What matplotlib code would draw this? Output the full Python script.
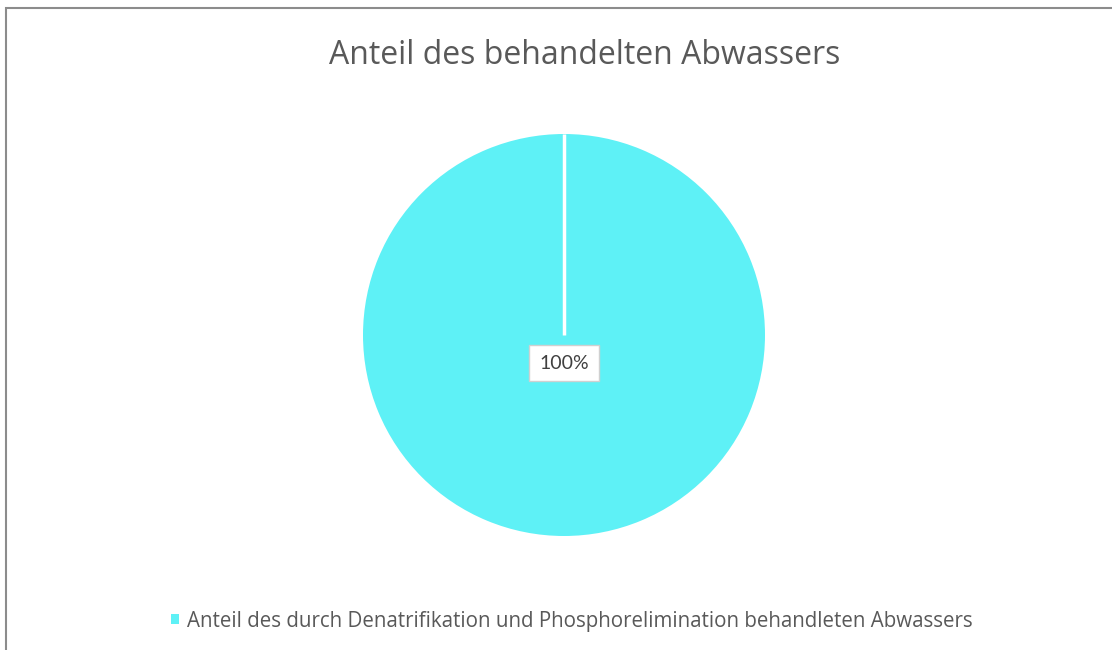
import matplotlib
matplotlib.use("Agg")
import matplotlib.pyplot as plt
from matplotlib.patches import Rectangle

title = "Anteil des behandelten Abwassers"
categories = ["Anteil des durch Denatrifikation und Phosphorelimination behandleten Abwassers"]
values = [100]
colors = ["#5EF1F6"]

W, H = 1112, 650
fig = plt.figure(figsize=(W / 100, H / 100), dpi=100)
fig.patch.set_facecolor("white")

# frame (left/top visible, rest cropped)
fig.add_artist(Rectangle((6 / W, -0.05), 1.2, (H - 8) / H + 0.05, transform=fig.transFigure,
                         fill=False, edgecolor="#8c8c8c", linewidth=1.5))

r = 201
cx, cy = 564, 335
ax = fig.add_axes([(cx - r) / W, (H - cy - r) / H, 2 * r / W, 2 * r / H])
wedges, _ = ax.pie(values, colors=colors, startangle=90, counterclock=False, radius=1,
                   wedgeprops=dict(edgecolor="none"))
# slice border line from centre to the start angle
ax.plot([0, 0], [0, 1], color="white", linewidth=2.5, solid_capstyle="butt")
ax.set_xlim(-1, 1)
ax.set_ylim(-1, 1)
ax.set_aspect("equal")
ax.axis("off")

total = sum(values)
ax.text(0, -0.14, f"{values[0] / total * 100:.0f}%", ha="center", va="center",
        fontsize=14, family="Lato", color="#404040", zorder=5,
        bbox=dict(boxstyle="square,pad=0.5", facecolor="white", edgecolor="#d0d0d0", linewidth=1))

fig.text(585 / W, 1 - 55 / H, title, ha="center", va="center", fontsize=23,
         family="Open Sans", color="#595959")

fig.legend(wedges, categories, loc="center", bbox_to_anchor=(572 / W, 1 - 621 / H),
           frameon=False, prop=dict(family="Open Sans", size=14.8),
           handlelength=0.4, handleheight=0.4, handletextpad=0.4, labelcolor="#595959")

fig.savefig("out.png", dpi=100)
